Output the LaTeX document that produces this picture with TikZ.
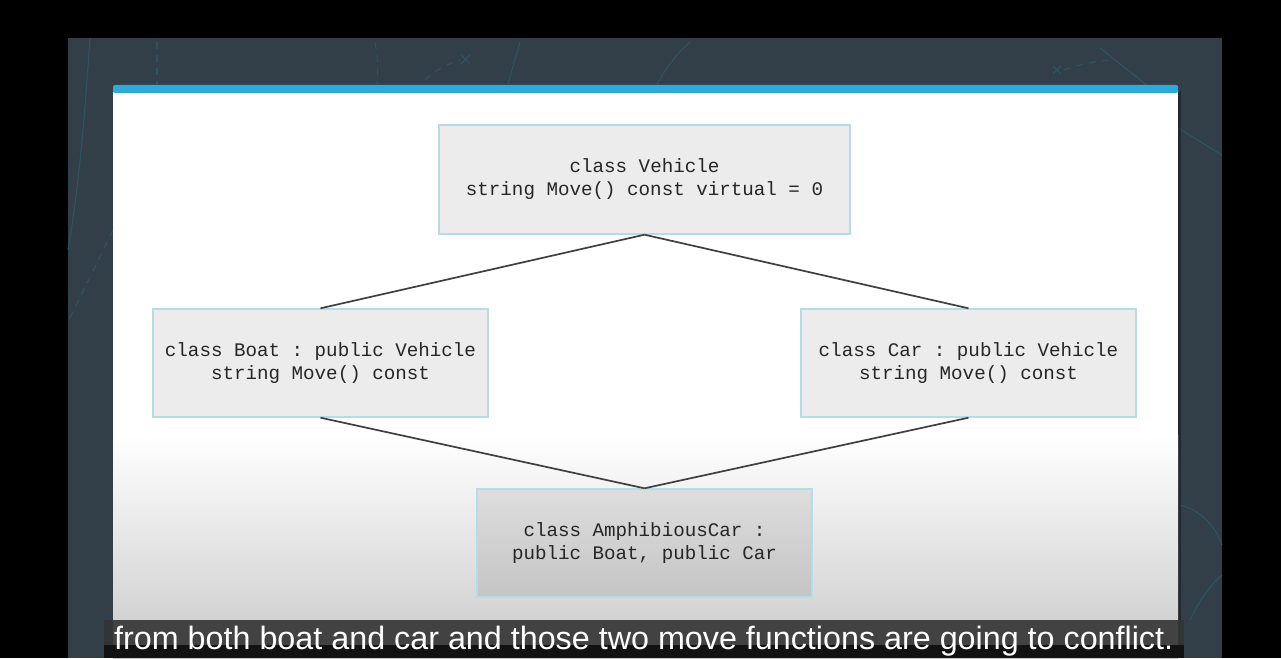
\documentclass[tikz,border=0pt]{standalone}
\usepackage{fontspec}
\setmonofont{Liberation Mono}
\newfontfamily\subfont{Liberation Sans}
\usetikzlibrary{calc}
\definecolor{slate}{HTML}{323F48}
\definecolor{deco}{HTML}{2C5462}
\definecolor{barblue}{HTML}{2EAAD9}
\definecolor{boxfill}{HTML}{ECECEC}
\definecolor{boxline}{HTML}{B5DCE8}
\definecolor{linkc}{HTML}{3F3F3F}
\tikzset{
  cls/.style={draw=boxline, line width=1.4pt, fill=boxfill, align=center,
    inner sep=0pt, font=\ttfamily\fontsize{19.2}{23}\selectfont, text=black!85},
  link/.style={draw=linkc, line width=1.7pt},
  decoline/.style={draw=deco, line width=1.1pt},
  decodash/.style={decoline, dash pattern=on 7pt off 6pt},
}
\begin{document}
\begin{tikzpicture}[x=1pt,y=-1pt]
\useasboundingbox (0,0) rectangle (1281,658);
\fill[black] (0,0) rectangle (1281,658);
\fill[slate] (68,38) rectangle (1222,658);
% background decorations
\draw[decoline] (90,38) .. controls (85,110) and (80,180) .. (68,250);
\draw[decodash] (157,42) -- (157,84);
\draw[decodash] (375,42) .. controls (378,60) and (378,72) .. (377,84);
\draw[decodash] (425,80) .. controls (435,70) and (448,64) .. (460,60);
\draw[decoline] (461,55) -- (470,64) (470,55) -- (461,64);
\draw[decoline] (520,42) -- (508,84);
\draw[decoline] (690,42) .. controls (675,55) and (665,70) .. (657,84);
\draw[decoline] (1053,66) -- (1061,74) (1061,66) -- (1053,74);
\draw[decodash] (1064,70) .. controls (1080,64) and (1095,62) .. (1108,60);
\draw[decoline] (1100,48) -- (1178,110);
\draw[decoline] (1178,128) -- (1222,155);
\draw[decodash] (113,230) -- (70,318);
\draw[decoline] (1180,505) .. controls (1200,510) and (1215,525) .. (1222,545);
\draw[decoline] (1190,620) .. controls (1200,600) and (1210,585) .. (1222,575);
% panel
\fill[black, opacity=0.3] (1178,92) rectangle (1181,658);
\fill[white] (113,88) rectangle (1178,436);
\shade[top color=white, bottom color=black!21] (113,435) rectangle (1178,658);
\fill[barblue, rounded corners=2pt] (113,85) rectangle (1178,93);
\fill[barblue] (113,89) rectangle (1178,91);
% nodes
\node[cls, minimum width=411pt, minimum height=109pt] (veh) at (644.5,179.5)
  {class Vehicle\\string Move() const virtual = 0};
\node[cls, minimum width=335pt, minimum height=108pt] (boat) at (320.5,363)
  {class Boat : public Vehicle\\string Move() const};
\node[cls, minimum width=335pt, minimum height=108pt] (car) at (968.5,363)
  {class Car : public Vehicle\\string Move() const};
\node[cls, minimum width=335pt, minimum height=108pt, fill=none,
  top color=black!13, bottom color=black!23] (amph) at (644.5,543)
  {class AmphibiousCar :\\public Boat, public Car};
% connectors
\draw[link] (veh.south) -- (boat.north);
\draw[link] (veh.south) -- (car.north);
\draw[link] (boat.south) -- (amph.north);
\draw[link] (car.south) -- (amph.north);
% subtitle
\fill[black!80, opacity=0.9] (104,620) rectangle (1184,645);
\fill[black!93] (104,645) rectangle (1184,658);
\node[text=white, anchor=base west, inner sep=0pt] (sub) at (114,649)
  {\resizebox{1059pt}{!}{\subfont\fontsize{30}{32}\selectfont from both boat and car and those two move functions are going to conflict.}};
\end{tikzpicture}
\end{document}
